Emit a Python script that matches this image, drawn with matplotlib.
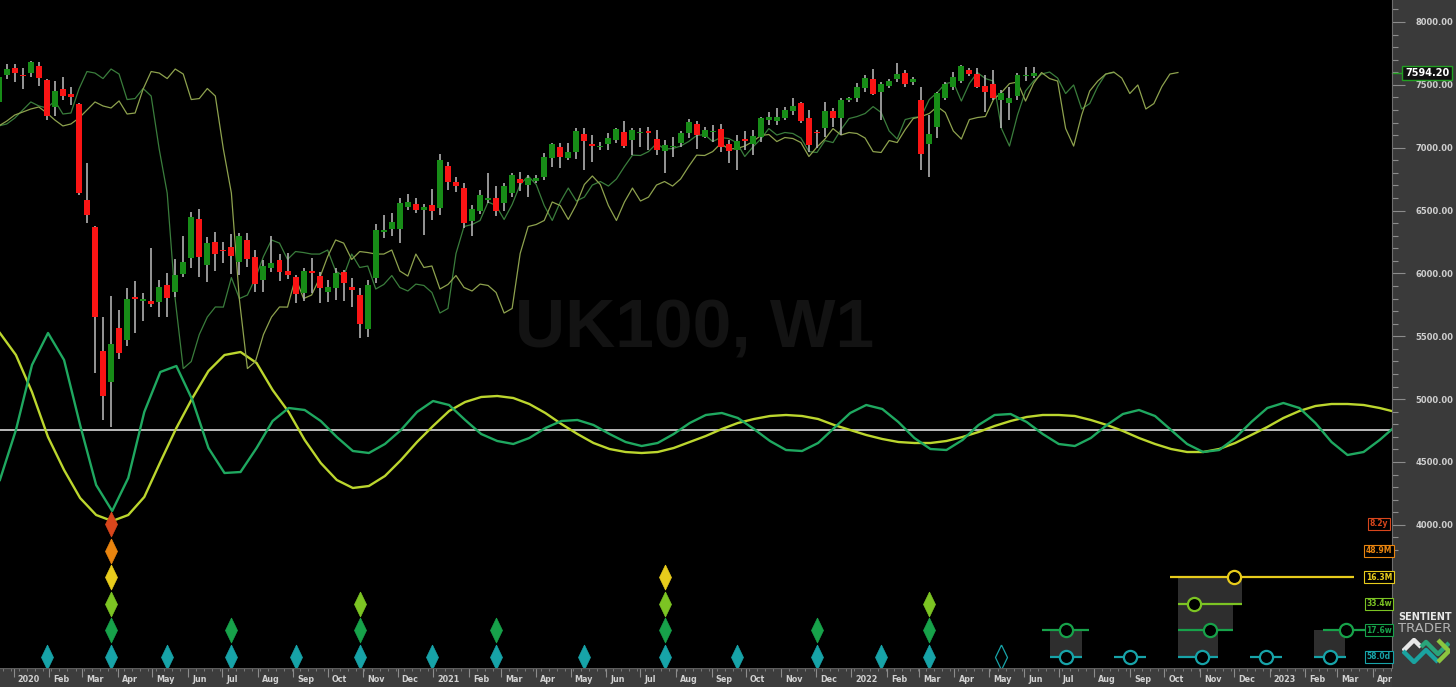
import numpy as np
import pandas as pd
import matplotlib
matplotlib.use("Agg")
import matplotlib.pyplot as plt
from matplotlib.path import Path
from matplotlib.patches import Rectangle
from matplotlib.transforms import blended_transform_factory as blend

ORIGIN = pd.Timestamp("2020-01-01")


def day(s):
    return (pd.Timestamp(s) - ORIGIN).days


## weekly UK100 candles (centre of week), starting week of 2019-12-19
candle_start = "2019-12-19"
opens = [7364, 7578, 7634, 7578, 7594, 7650, 7539, 7324, 7467, 7427,
         7348, 6584, 6369, 5383, 5136, 5566, 5470, 5812, 5780, 5780,
         5773, 5908, 5852, 5995, 6123, 6433, 6067, 6250, 6186, 6210,
         6091, 6266, 6131, 5948, 6043, 6107, 6019, 5971, 5844, 6019,
         5979, 5852, 5884, 6011, 5892, 5828, 5558, 5963, 6329, 6353,
         6353, 6528, 6552, 6504, 6544, 6520, 6854, 6727, 6679, 6417,
         6496, 6584, 6600, 6560, 6640, 6751, 6703, 6735, 6767, 6918,
         7006, 6918, 6966, 7109, 7029, 7006, 7029, 7061, 7125, 7061,
         7117, 7133, 7069, 6974, 7006, 7037, 7117, 7189, 7085, 7125,
         7149, 7029, 6982, 7069, 7029, 7085, 7220, 7212, 7236, 7292,
         7356, 7236, 7125, 7157, 7292, 7236, 7380, 7395, 7475, 7547,
         7443, 7491, 7547, 7594, 7523, 7380, 7029, 7165, 7395, 7483,
         7531, 7618, 7586, 7491, 7507, 7380, 7356, 7411, 7570, 7570]
highs = [7578, 7666, 7666, 7634, 7690, 7682, 7547, 7531, 7562, 7483,
         7356, 6878, 6377, 5653, 5820, 5709, 5884, 5940, 5844, 6202,
         5948, 6004, 6115, 6298, 6489, 6512, 6290, 6329, 6250, 6314,
         6321, 6321, 6186, 6107, 6298, 6154, 6162, 5987, 6043, 6123,
         6011, 5948, 6043, 6027, 5963, 5884, 5948, 6393, 6465, 6481,
         6600, 6632, 6600, 6552, 6672, 6950, 6886, 6767, 6719, 6544,
         6664, 6799, 6695, 6719, 6799, 6807, 6783, 6783, 6958, 7037,
         7037, 7037, 7157, 7157, 7101, 7045, 7117, 7157, 7212, 7157,
         7157, 7165, 7141, 7061, 7085, 7133, 7228, 7212, 7165, 7181,
         7189, 7061, 7101, 7133, 7141, 7244, 7284, 7316, 7324, 7395,
         7364, 7300, 7141, 7364, 7316, 7395, 7403, 7515, 7578, 7626,
         7523, 7547, 7674, 7618, 7562, 7483, 7260, 7443, 7523, 7602,
         7658, 7634, 7634, 7578, 7618, 7459, 7483, 7594, 7642, 7642]
lows = [7356, 7547, 7523, 7467, 7562, 7491, 7220, 7252, 7380, 7340,
        6624, 6401, 5208, 4834, 4778, 5319, 5423, 5526, 5621, 5733,
        5653, 5653, 5812, 5971, 6043, 5971, 5932, 6019, 6083, 5995,
        5987, 6051, 5852, 5852, 6011, 5940, 5956, 5765, 5781, 5844,
        5765, 5773, 5788, 5781, 5733, 5486, 5494, 5924, 6282, 6298,
        6242, 6504, 6481, 6306, 6425, 6465, 6664, 6648, 6361, 6298,
        6473, 6560, 6457, 6496, 6608, 6656, 6608, 6719, 6743, 6846,
        6839, 6902, 6910, 6823, 6886, 6982, 6982, 7037, 6998, 6942,
        7006, 6982, 6942, 6799, 6926, 7006, 7077, 6990, 7077, 7045,
        6966, 6878, 6823, 6982, 6942, 7045, 7181, 7181, 7220, 7260,
        7197, 6966, 6998, 7085, 7165, 7101, 7364, 7364, 7443, 7419,
        7220, 7475, 7523, 7483, 7499, 6823, 6767, 7077, 7380, 7459,
        7515, 7570, 7475, 7284, 7380, 7157, 7220, 7380, 7531, 7555]
closes = [7562, 7626, 7594, 7570, 7682, 7555, 7252, 7451, 7411, 7403,
          6640, 6465, 5653, 5025, 5439, 5367, 5796, 5796, 5796, 5757,
          5892, 5804, 5987, 6091, 6449, 6131, 6242, 6154, 6178, 6139,
          6298, 6115, 5916, 6059, 6083, 6011, 5987, 5836, 6019, 6003,
          5884, 5892, 6003, 5924, 5868, 5598, 5908, 6345, 6345, 6409,
          6560, 6568, 6504, 6528, 6496, 6902, 6727, 6695, 6401, 6512,
          6624, 6600, 6496, 6695, 6783, 6719, 6759, 6759, 6926, 7029,
          6926, 6966, 7133, 7053, 7014, 7014, 7077, 7149, 7014, 7141,
          7125, 7117, 6982, 7022, 7014, 7117, 7204, 7101, 7141, 7133,
          7006, 6974, 7053, 7053, 7093, 7236, 7244, 7244, 7300, 7332,
          7212, 7022, 7117, 7292, 7236, 7380, 7395, 7483, 7555, 7427,
          7507, 7531, 7586, 7507, 7547, 6950, 7109, 7435, 7507, 7562,
          7650, 7586, 7483, 7443, 7395, 7435, 7395, 7578, 7578, 7594.2]
last_price = 7594.20

## weekly median line used by both FLDs, starting week of 2019-08-15
fld_start = "2019-08-15"
fld_mid = [7173, 7212, 7260, 7284, 7308, 7324, 7276, 7220, 7173, 7189, 7236, 7300, 7364, 7332, 7316, 7372, 7268, 7276,
           7467, 7606, 7594, 7550, 7626, 7586, 7383, 7391, 7471, 7411,
           6990, 6639, 5792, 5243, 5299, 5514, 5653, 5733, 5732, 5967,
           5800, 5828, 5963, 6134, 6266, 6241, 6111, 6174, 6166, 6154,
           6154, 6186, 6019, 5979, 6154, 6047, 6059, 5876, 5912, 5983,
           5888, 5860, 5915, 5904, 5848, 5685, 5721, 6158, 6373, 6389,
           6421, 6568, 6540, 6429, 6548, 6707, 6775, 6707, 6540, 6421,
           6568, 6679, 6576, 6607, 6703, 6731, 6695, 6751, 6850, 6941,
           6938, 6969, 7033, 6990, 6993, 7013, 7049, 7097, 7105, 7049,
           7081, 7073, 7041, 6930, 7005, 7069, 7152, 7101, 7121, 7113,
           7077, 6969, 6962, 7057, 7041, 7144, 7232, 7248, 7272, 7327,
           7280, 7133, 7069, 7224, 7240, 7248, 7383, 7439, 7510, 7522,
           7371, 7511, 7598, 7550, 7530, 7153, 7013, 7260, 7451, 7530,
           7586, 7602, 7554, 7431, 7499, 7308, 7351, 7487, 7586, 7598]
fld_short_weeks = 10
fld_long_weeks = 18

## cycle oscillators (own scale, 0 = white line), sampled every 14 days
wave_start_day = -12
yellow_wave = [97, 75, 38, -7, -40, -68, -85, -91, -85, -67,
               -32, 2, 32, 59, 75, 78, 67, 40, 18, -10,
               -33, -50, -58, -56, -46, -30, -12, 4, 19, 28,
               33, 34, 32, 26, 17, 6, -4, -13, -19, -22,
               -23, -22, -18, -12, -6, 1, 7, 11, 14, 15,
               14, 11, 5, 0, -5, -9, -12, -13, -13, -11,
               -7, -2, 4, 9, 13, 15, 15, 14, 10, 5,
               -1, -8, -14, -19, -22, -22, -19, -13, -5, 3,
               12, 19, 24, 26, 26, 25, 22, 18]
green_wave = [-50, 0, 65, 97, 70, 5, -55, -81, -48, 18,
              58, 64, 30, -18, -43, -42, -18, 9, 22, 20,
              9, -7, -21, -23, -14, 0, 18, 29, 25, 10,
              -4, -11, -14, -8, 2, 9, 10, 5, -4, -12,
              -16, -13, -4, 7, 15, 17, 12, 1, -11, -20,
              -21, -13, 2, 17, 25, 21, 8, -8, -19, -20,
              -10, 5, 15, 16, 8, -4, -14, -16, -8, 5,
              16, 20, 14, 0, -14, -22, -20, -8, 8, 22,
              27, 22, 7, -12, -25, -22, -10, 4]

## cycle rows (bottom to top)
cycle_names = ["58.0d", "17.6w", "33.4w", "16.3M", "48.9M", "8.2y"]
cycle_colors = ["#17a3a8", "#17a24a", "#7cc423", "#e8cc1c", "#e8840f", "#d8461c"]
lows_58d = ["2020-01-30", "2020-03-26", "2020-05-14", "2020-07-09", "2020-09-03", "2020-10-29",
            "2020-12-31", "2021-02-25", "2021-05-13", "2021-07-22", "2021-09-23", "2021-12-02",
            "2022-01-27", "2022-03-10"]
lows_17w = ["2020-03-26", "2020-07-09", "2020-10-29", "2021-02-25", "2021-07-22", "2021-12-02", "2022-03-10"]
lows_33w = ["2020-03-26", "2020-10-29", "2021-07-22", "2022-03-10"]
lows_16m = ["2020-03-26", "2021-07-22"]
lows_48m = ["2020-03-26"]
lows_8y = ["2020-03-26"]
pending_58d = "2022-05-12"

## projected troughs: (row, centre, from, to)
proj_row = [0, 0, 0, 0, 0, 1, 1, 1, 2, 3]
proj_mid = ["2022-07-07", "2022-09-01", "2022-11-03", "2022-12-29", "2023-02-23",
            "2022-07-07", "2022-11-10", "2023-03-09", "2022-10-27", "2022-12-01"]
proj_from = ["2022-06-23", "2022-08-18", "2022-10-13", "2022-12-15", "2023-02-09",
             "2022-06-16", "2022-10-13", "2023-02-17", "2022-10-13", "2022-10-06"]
proj_to = ["2022-07-21", "2022-09-15", "2022-11-17", "2023-01-12", "2023-03-09",
           "2022-07-27", "2022-11-30", "2023-03-28", "2022-12-08", "2023-03-16"]
box_from = ["2022-06-23", "2022-10-13", "2022-10-13", "2022-10-13", "2023-02-09"]
box_to = ["2022-07-21", "2022-11-17", "2022-11-30", "2022-12-08", "2023-03-08"]
box_row = [0, 0, 1, 2, 0]

# ---------------------------------------------------------------

W, H = 1456, 687
fig = plt.figure(figsize=(W / 100, H / 100), dpi=100)
fig.patch.set_facecolor("#3a3a3a")
rect = [0, 19 / H, 1392 / W, 668 / H]
xlim = (-11.9, 1202.8)


def bare(a):
    a.set_xticks([])
    a.set_yticks([])
    for s in a.spines.values():
        s.set_visible(False)


# cycle pane (bottom layer, black background)
ax_cyc = fig.add_axes(rect)
ax_cyc.set_facecolor("black")
bare(ax_cyc)
ax_cyc.set_xlim(xlim)
ax_cyc.set_ylim(-238, 430)
ax_cyc.text(0.4993, 0.506, "UK100, W1", transform=ax_cyc.transAxes, ha="center", va="center",
            fontsize=50, fontweight="bold", color="#131313", family="Liberation Sans", zorder=0)
ax_cyc.axhline(0, color="#c8c8c8", lw=1.3, zorder=1)
wave_days = wave_start_day + 14 * np.arange(len(yellow_wave))
ax_cyc.plot(wave_days, yellow_wave, color="#bcd62e", lw=1.7, zorder=3)
ax_cyc.plot(wave_days, green_wave, color="#1fa860", lw=1.7, zorder=3)

# price pane
ax = fig.add_axes(rect)
ax.set_facecolor("none")
ax.set_xlim(xlim)
ax.set_ylim(2861, 8175)

dates = pd.date_range(candle_start, periods=len(opens), freq="7D")
x = np.array([(d - ORIGIN).days for d in dates])
o, h, l, c = map(np.array, (opens, highs, lows, closes))

ax.vlines(x, l, h, color="#b0b0b0", lw=1.2, zorder=2)
body = c - o
body = np.where(np.abs(body) < 10, np.where(body >= 0, 10, -10), body)
col = np.where(c >= o, "#178c17", "#fa1414")
ax.bar(x, body, bottom=o, width=5.2, color=col, zorder=3)

fdates = pd.date_range(fld_start, periods=len(fld_mid), freq="7D")
fx = np.array([(d - ORIGIN).days for d in fdates])
ax.plot(fx + 7 * fld_short_weeks, fld_mid, color="#3a7d3c", lw=0.9, zorder=1)
ax.plot(fx + 7 * fld_long_weeks, fld_mid, color="#8ea24e", lw=0.9, zorder=1)

# right price scale
for s in ["top", "left", "bottom"]:
    ax.spines[s].set_visible(False)
ax.spines["right"].set_color("#6e6e6e")
ax.set_xticks([])
ax.yaxis.tick_right()
major = list(range(4000, 8001, 500))
ax.set_yticks(major)
ax.set_yticklabels([f"{v:.2f}" for v in major])
ax.set_yticks([v for v in range(3800, 8101, 100) if v not in major], minor=True)
ax.tick_params(axis="y", which="major", direction="out", length=9, width=0.8, color="#8c8c8c",
               labelcolor="#cfcfcf", labelsize=6, pad=8)
ax.tick_params(axis="y", which="minor", direction="out", length=4, width=0.8, color="#8c8c8c")
for t in ax.get_yticklabels():
    t.set_fontweight("bold")

tr = blend(fig.transFigure, ax.transData)
ax.plot([1392 / W, 1407 / W], [last_price, last_price], transform=tr, color="#22a022", lw=1, clip_on=False)
ax.text(1427 / W, last_price, f"{last_price:.2f}", transform=tr, ha="center", va="center", fontsize=7,
        fontweight="bold", color="white",
        bbox=dict(boxstyle="square,pad=0.25", fc="#111111", ec="#22a022", lw=1))

# cycle trough rows
ax_rows = fig.add_axes(rect)
ax_rows.set_facecolor("none")
bare(ax_rows)
ax_rows.set_xlim(xlim)
ax_rows.set_ylim(-0.414, 24.7)

diamond = Path([(0, 1), (0.48, 0), (0, -1), (-0.48, 0), (0, 1)])
for row, lst in enumerate([lows_58d, lows_17w, lows_33w, lows_16m, lows_48m, lows_8y]):
    ax_rows.plot([day(d) for d in lst], [row] * len(lst), ls="none", marker=diamond, ms=18,
                 mfc=cycle_colors[row], mec=cycle_colors[row], mew=0.5, zorder=4)
ax_rows.plot([day(pending_58d)], [0], ls="none", marker=diamond, ms=18, mfc="none",
             mec=cycle_colors[0], mew=0.9, zorder=4)

for b0, b1, r in zip(box_from, box_to, box_row):
    ax_rows.add_patch(Rectangle((day(b0), r), day(b1) - day(b0), 1, fc="#2e2e2e", ec="none", zorder=1))
for r, m, a, b in zip(proj_row, proj_mid, proj_from, proj_to):
    ax_rows.plot([day(a), day(b)], [r, r], color=cycle_colors[r], lw=1.6, zorder=2, solid_capstyle="butt")
    ax_rows.plot([day(m)], [r], ls="none", marker="o", ms=9.5, mfc="black", mec=cycle_colors[r], mew=1.6,
                 zorder=3)

tr2 = blend(ax_rows.transAxes, ax_rows.transData)
for r, (name, cc) in enumerate(zip(cycle_names, cycle_colors)):
    ax_rows.text(1379 / 1392, r, name, transform=tr2, ha="center", va="center", fontsize=5.5,
                 color=cc, fontweight="bold",
                 bbox=dict(boxstyle="square,pad=0.2", fc="black", ec=cc, lw=0.8))

# time strip
strip = fig.add_axes([0, 0, 1392 / W, 19 / H])
strip.set_facecolor("#3d3d3d")
bare(strip)
strip.set_xlim(xlim)
strip.set_ylim(0, 1)
weeks = pd.date_range("2019-12-16", "2023-04-24", freq="7D")
strip.vlines([(d - ORIGIN).days for d in weeks], 0.82, 1, color="#7a7a7a", lw=0.7)
months = pd.date_range("2020-01-01", "2023-04-01", freq="MS")
for m in months:
    d = (m - ORIGIN).days
    strip.vlines(d, 0.55, 1, color="#8c8c8c", lw=0.8)
    lab = str(m.year) if m.month == 1 else m.strftime("%b")
    strip.annotate(lab, (d, 0.4), xytext=(3, 0), textcoords="offset points", ha="left", va="center",
                   fontsize=5.8, color="#d2d2d2", fontweight="bold")
strip.axhline(1, color="#5c5c5c", lw=1)

# logo
fig.text(1425 / W, 1 - 617 / H, "SENTIENT", ha="center", va="center", fontsize=7, fontweight="bold",
         color="#e8e8e8")
fig.text(1425 / W, 1 - 629 / H, "TRADER", ha="center", va="center", fontsize=9.5, color="#b4b4b4")
logo = fig.add_axes([1402 / W, 1 - 664 / H, 48 / W, 26 / H])
logo.set_facecolor("none")
bare(logo)
logo.set_xlim(0, 48)
logo.set_ylim(0, 26)
logo.plot([1, 12, 19], [13, 24, 17], color="#e8e8e8", lw=3.2, solid_capstyle="butt")
logo.plot([1, 12, 24, 36], [13, 2, 14, 2], color="#1aa3a0", lw=3.2, solid_capstyle="butt")
logo.plot([19, 24, 36, 47], [17, 22, 10, 21], color="#2aa37a", lw=3.2, solid_capstyle="butt")
logo.plot([36, 47, 36], [2, 13, 24], color="#8cc63f", lw=3.2, solid_capstyle="butt")

fig.savefig("out.png", dpi=100, facecolor=fig.get_facecolor())
